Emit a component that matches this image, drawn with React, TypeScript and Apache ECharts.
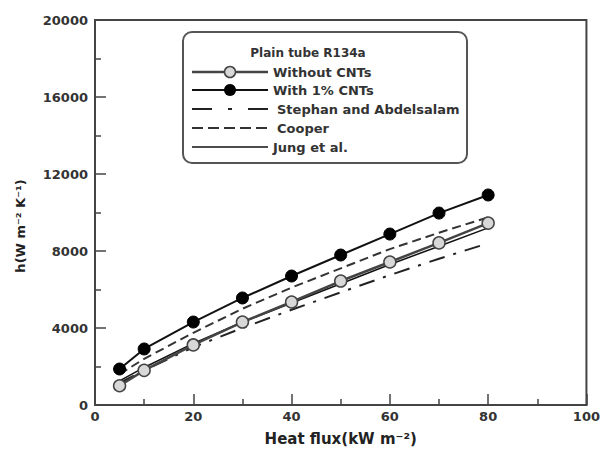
import React, { useEffect, useRef } from "react";
import * as echarts from "echarts";

const xValues = [5, 10, 20, 30, 40, 50, 60, 70, 80];
const withoutCNTs = [1000, 1800, 3120, 4310, 5350, 6440, 7430, 8420, 9450];
const with1CNTs = [1870, 2910, 4310, 5560, 6700, 7790, 8880, 9970, 10910];
const stephan = [1150, 1800, 3000, 4000, 4950, 5850, 6750, 7600, 8400];
const cooper = [1600, 2400, 3750, 5000, 6100, 7100, 8100, 8950, 9750];
const jung = [1250, 1950, 3200, 4300, 5300, 6300, 7300, 8250, 9200];

const seriesNames = ["Without CNTs", "With 1% CNTs", "Stephan and Abdelsalam", "Cooper", "Jung et al."];
const legendTitle = "Plain tube R134a";
const xName = "Heat flux(kW m\u207B\u00B2)";
const yName = "h(W m\u207B\u00B2 K\u207B\u00B9)";

const pairs = (ys: number[]) => xValues.map((x, i) => [x, ys[i]]);

const FONT = "DejaVu Sans";

export default function App() {
  const ref = useRef<HTMLDivElement>(null);
  useEffect(() => {
    if (!ref.current) return;
    const chart = echarts.init(ref.current, undefined, { renderer: "svg" });
    const labelStyle = { fontFamily: FONT, fontWeight: "bold" as const, fontSize: 13, color: "#333" };

    // custom legend
    const rowsY = [72, 90, 109, 128, 147];
    const textX = [273, 273, 277, 277, 273];
    const lineStyles: any[] = [
      { stroke: "#444", lineWidth: 2.5 },
      { stroke: "#111", lineWidth: 2 },
      { stroke: "#222", lineWidth: 2, lineDash: [20, 16, 4, 16] },
      { stroke: "#333", lineWidth: 2, lineDash: [11, 5] },
      { stroke: "#111", lineWidth: 1.5 },
    ];
    const legendEls: any[] = [];
    seriesNames.forEach((name, i) => {
      legendEls.push({
        type: "line",
        shape: { x1: 192, y1: rowsY[i], x2: 268, y2: rowsY[i] },
        style: lineStyles[i],
        z: 6,
      });
      legendEls.push({
        type: "text",
        x: textX[i],
        y: rowsY[i],
        style: { text: name, fontFamily: FONT, fontWeight: "bold", fontSize: 13, fill: "#333", verticalAlign: "middle" },
        z: 6,
      });
    });
    legendEls.push({
      type: "circle",
      shape: { cx: 230, cy: rowsY[0], r: 5.5 },
      style: { fill: "#d8d8d8", stroke: "#444", lineWidth: 1.5 },
      z: 7,
    });
    legendEls.push({
      type: "circle",
      shape: { cx: 230, cy: rowsY[1], r: 6 },
      style: { fill: "#000" },
      z: 7,
    });

    chart.setOption({
      animation: false,
      backgroundColor: "#fff",
      grid: { left: 95, right: 16, top: 20, bottom: 46, show: true, borderColor: "#444", borderWidth: 2, backgroundColor: "transparent" },
      xAxis: {
        type: "value",
        min: 0,
        max: 100,
        interval: 20,
        name: xName,
        nameLocation: "middle",
        nameGap: 26,
        nameTextStyle: { fontFamily: FONT, fontWeight: "bold", fontSize: 15, color: "#222" },
        axisLine: { lineStyle: { color: "#444", width: 2 } },
        axisTick: { inside: true, length: 11, lineStyle: { color: "#444", width: 1.5 } },
        minorTick: { show: true, splitNumber: 2, length: 6, lineStyle: { color: "#444", width: 1.5 } },
        splitLine: { show: false },
        axisLabel: { ...labelStyle, margin: 5 },
      },
      yAxis: {
        type: "value",
        min: 0,
        max: 20000,
        interval: 4000,
        axisLine: { lineStyle: { color: "#444", width: 2 } },
        axisTick: { inside: true, length: 11, lineStyle: { color: "#444", width: 1.5 } },
        minorTick: { show: true, splitNumber: 2, length: 6, lineStyle: { color: "#444", width: 1.5 } },
        splitLine: { show: false },
        axisLabel: { ...labelStyle, margin: 7, formatter: (v: number) => String(v) },
      },
      graphic: [
        {
          type: "rect",
          shape: { x: 183, y: 32, width: 284, height: 131, r: 9 },
          style: { fill: "#fff", stroke: "#555", lineWidth: 2 },
          z: 5,
        },
        {
          type: "text",
          x: 308,
          y: 53,
          style: { text: legendTitle, fontFamily: FONT, fontWeight: "bold", fontSize: 12, fill: "#333", align: "center", verticalAlign: "middle" },
          z: 6,
        },
        {
          type: "text",
          x: 20,
          y: 226,
          rotation: Math.PI / 2,
          style: { text: yName, fontFamily: FONT, fontWeight: "bold", fontSize: 13, fill: "#222", align: "center", verticalAlign: "middle" },
          z: 6,
        },
        ...legendEls,
      ],
      series: [
        {
          name: seriesNames[0],
          type: "line",
          data: pairs(withoutCNTs),
          symbol: "circle",
          symbolSize: 12,
          itemStyle: { color: "#d8d8d8", borderColor: "#444", borderWidth: 1.5 },
          lineStyle: { color: "#444", width: 2.5 },
          z: 4,
        },
        {
          name: seriesNames[1],
          type: "line",
          data: pairs(with1CNTs),
          symbol: "circle",
          symbolSize: 12,
          itemStyle: { color: "#000", borderColor: "#000", borderWidth: 1 },
          lineStyle: { color: "#111", width: 2 },
          z: 4,
        },
        {
          name: seriesNames[2],
          type: "line",
          data: pairs(stephan),
          symbol: "none",
          lineStyle: { color: "#222", width: 2, type: [16, 9, 3, 9] },
          z: 3,
        },
        {
          name: seriesNames[3],
          type: "line",
          data: pairs(cooper),
          symbol: "none",
          lineStyle: { color: "#333", width: 2, type: [9, 5] },
          z: 3,
        },
        {
          name: seriesNames[4],
          type: "line",
          data: pairs(jung),
          symbol: "none",
          lineStyle: { color: "#111", width: 1.5 },
          z: 3,
        },
      ],
    });
    return () => chart.dispose();
  }, []);
  return <div ref={ref} style={{ position: "absolute", left: 0, top: 0, width: 603, height: 451 }} />;
}
